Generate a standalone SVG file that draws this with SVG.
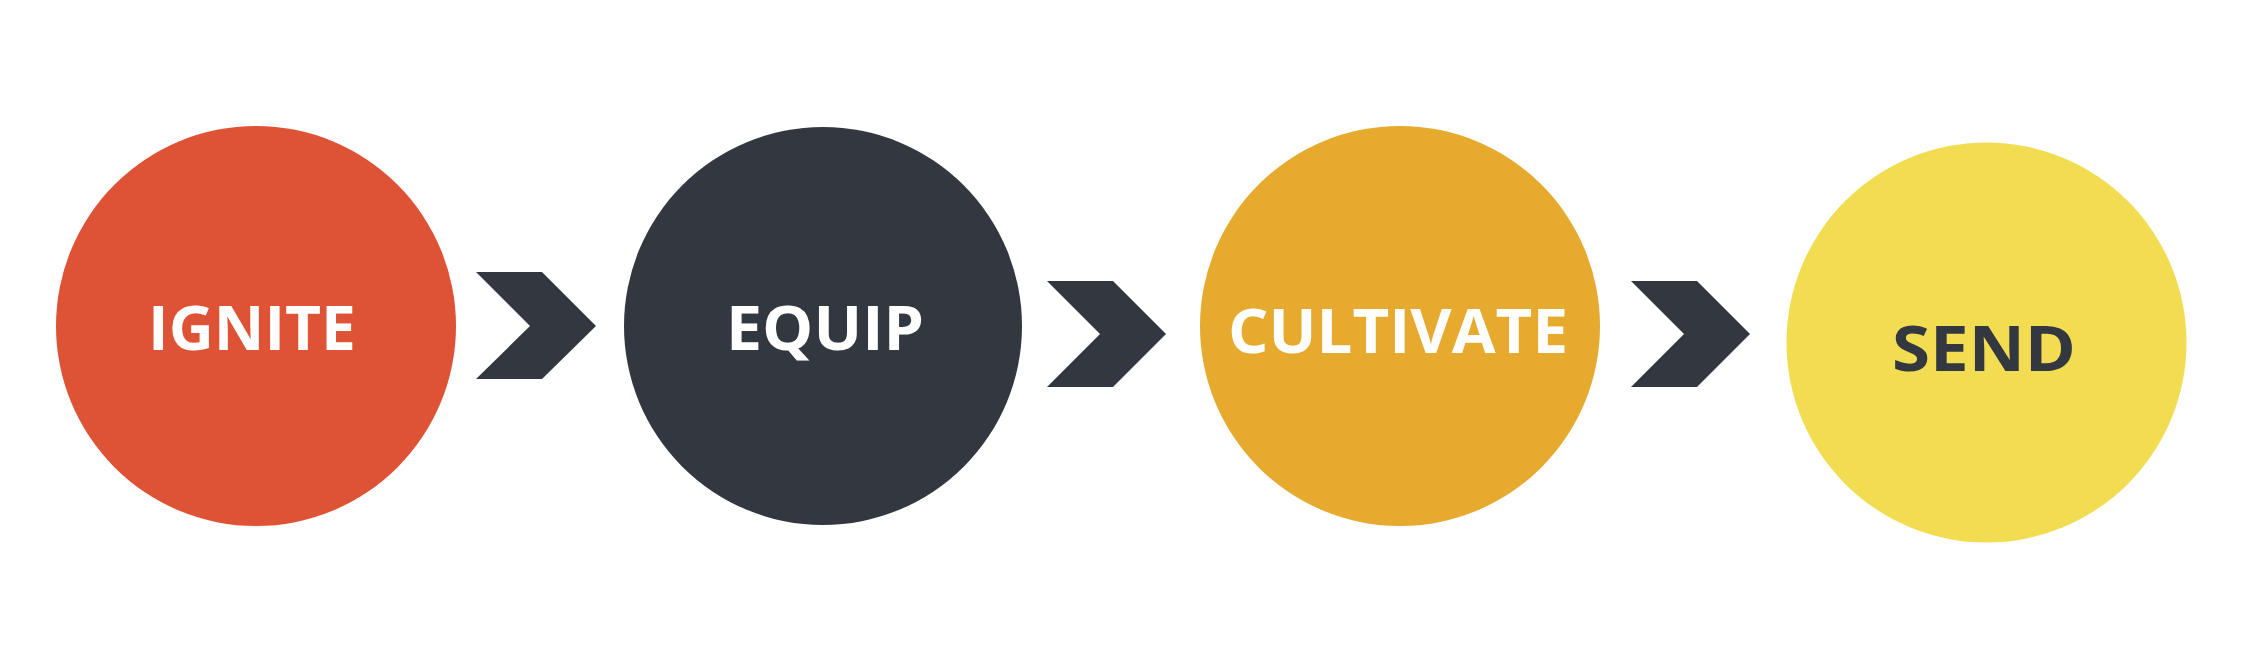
<svg xmlns="http://www.w3.org/2000/svg" width="2245" height="659" viewBox="0 0 2245 659">
  <style>
    .lbl { font-family: "Open Sans", "Liberation Sans", sans-serif; font-weight: 700; }
    .chev { fill: #33373F; }
  </style>
  <rect x="0" y="0" width="2245" height="659" fill="#FFFFFF"/>
  <g id="connectors">
    <polygon class="chev" points="476,272 542,272 596,326 542,379 476,379 530,326"/>
    <polygon class="chev" points="1047,281 1113,281 1166,334 1113,387 1047,387 1100,334"/>
    <polygon class="chev" points="1631,281 1697,281 1750,334 1697,387 1631,387 1684,334"/>
  </g>
  <g id="ignite">
    <circle cx="256" cy="326" r="200" fill="#DE5235"/>
    <text class="lbl" x="148" y="350" font-size="60" fill="#FFFFFF" textLength="208" lengthAdjust="spacingAndGlyphs">IGNITE</text>
  </g>
  <g id="equip">
    <circle cx="823" cy="326" r="199" fill="#33373F"/>
    <text class="lbl" x="726" y="350" font-size="60" fill="#FFFFFF" textLength="198" lengthAdjust="spacingAndGlyphs">EQUIP</text>
  </g>
  <g id="cultivate">
    <circle cx="1400" cy="326" r="200" fill="#E5AA2E"/>
    <text class="lbl" x="1228" y="353" font-size="60" font-weight="600" fill="#FFFFFF" textLength="340" lengthAdjust="spacingAndGlyphs">CULTIVATE</text>
  </g>
  <g id="send">
    <circle cx="1986.5" cy="342.5" r="200" fill="#F2DD52"/>
    <text class="lbl" x="1892" y="371" font-size="63" fill="#33373F" textLength="184" lengthAdjust="spacingAndGlyphs">SEND</text>
  </g>
</svg>
